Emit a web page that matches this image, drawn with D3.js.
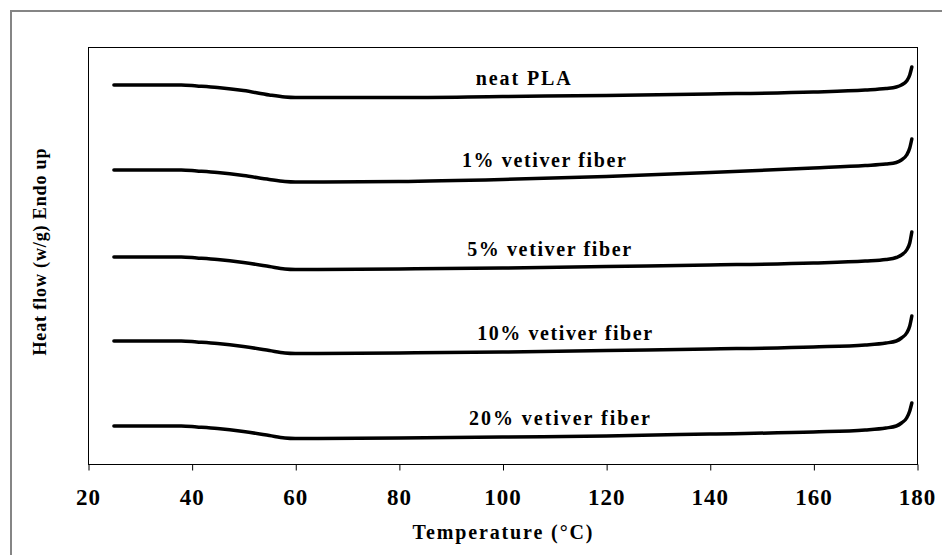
<!DOCTYPE html>
<meta charset="utf-8">
<style>
body { margin: 0; background: #fff; }
svg text { font-family: "Liberation Serif", "Times New Roman", serif; font-weight: bold; fill: #000; }
.axis path, .axis line { stroke: #000; stroke-width: 1px; }
</style>
<body>
<svg width="942" height="555"></svg>
<script src="https://cdn.jsdelivr.net/npm/d3@7/dist/d3.min.js"></script>
<script>

// temperature (°C) sampled along each DSC trace
var temps = [25, 38, 41, 45, 50, 55, 58, 60, 80, 100, 120, 140, 160, 170, 174, 176, 177, 178, 178.6, 179];

// heat flow, arbitrary units (curves offset vertically as in the figure)
var neatPLA = [37.9, 37.9, 37.8, 37.65, 37.35, 36.9, 36.7, 36.65, 36.65, 36.75, 36.85, 37.0, 37.2, 37.4, 37.55, 37.7, 37.9, 38.3, 38.9, 39.7];
var fiber1  = [29.4, 29.4, 29.3, 29.15, 28.85, 28.45, 28.25, 28.2, 28.25, 28.45, 28.75, 29.15, 29.6, 29.85, 30.0, 30.15, 30.4, 30.9, 31.6, 32.5];
var fiber5  = [20.7, 20.7, 20.6, 20.45, 20.15, 19.75, 19.5, 19.45, 19.5, 19.6, 19.75, 19.9, 20.1, 20.3, 20.45, 20.65, 20.9, 21.4, 22.1, 23.2];
var fiber10 = [12.3, 12.3, 12.2, 12.05, 11.75, 11.35, 11.1, 11.05, 11.1, 11.2, 11.35, 11.5, 11.7, 11.9, 12.1, 12.3, 12.6, 13.1, 13.8, 14.8];
var fiber20 = [3.8, 3.8, 3.7, 3.55, 3.25, 2.85, 2.6, 2.55, 2.6, 2.7, 2.8, 3.0, 3.2, 3.4, 3.6, 3.8, 4.1, 4.6, 5.3, 6.1];

var seriesNames = ["neat PLA", "1% vetiver fiber", "5% vetiver fiber", "10% vetiver fiber", "20% vetiver fiber"];
var xTicks = [20, 40, 60, 80, 100, 120, 140, 160, 180];

var allSeries = [neatPLA, fiber1, fiber5, fiber10, fiber20];

var svg = d3.select("svg");

// outer frame (runs off the picture on right/bottom)
svg.append("rect")
    .attr("x", 11).attr("y", 11)
    .attr("width", 1000).attr("height", 1000)
    .attr("fill", "none")
    .attr("stroke", "#858585")
    .attr("stroke-width", 2);

var pLeft = 88, pRight = 917, pTop = 47, pBottom = 464;

var x = d3.scaleLinear().domain([20, 180]).range([pLeft, pRight]);
var y = d3.scaleLinear().domain([0, 41.7]).range([pBottom, pTop]);

// plot frame
svg.append("rect")
    .attr("x", pLeft + 0.5).attr("y", pTop + 0.5)
    .attr("width", pRight - pLeft).attr("height", pBottom - pTop)
    .attr("fill", "none")
    .attr("stroke", "#000")
    .attr("stroke-width", 1);

var xAxis = svg.append("g")
    .attr("class", "axis")
    .attr("transform", "translate(0," + (pBottom + 0.5) + ")")
    .call(d3.axisBottom(x).tickValues(xTicks).tickSize(6).tickSizeOuter(0));
xAxis.select(".domain").remove();
xAxis.selectAll("line").attr("transform", "translate(0.5,0)");
xAxis.selectAll("text")
    .attr("y", 40.5).attr("dy", 0)
    .style("font-size", "23px")
    .style("letter-spacing", "1px");

// lines
var line = d3.line()
    .x(function(d, i) { return x(temps[i]); })
    .y(function(d) { return y(d); })
    .curve(d3.curveMonotoneX);

svg.append("g").selectAll("path")
    .data(allSeries)
    .enter().append("path")
    .attr("d", line)
    .attr("fill", "none")
    .attr("stroke", "#000")
    .attr("stroke-width", 3.5)
    .attr("stroke-linejoin", "round")
    .attr("stroke-linecap", "round");

// curve labels, sitting just above each trace
var labelAt = [104, 108, 109, 112, 111];
var labelW = [95, 164, 164, 175, 181];
svg.append("g").selectAll("text")
    .data(seriesNames)
    .enter().append("text")
    .attr("x", function(d, i) { return x(labelAt[i]); })
    .attr("y", function(d, i) {
      var v = d3.scaleLinear().domain(temps).range(allSeries[i])(labelAt[i]);
      return y(v) - 11;
    })
    .attr("text-anchor", "middle")
    .attr("textLength", function(d, i) { return labelW[i]; })
    .attr("lengthAdjust", "spacing")
    .style("font-size", "20px")
    .text(function(d) { return d; });

// axis titles
svg.append("text")
    .attr("x", (pLeft + pRight) / 2)
    .attr("y", 539)
    .attr("text-anchor", "middle")
    .attr("textLength", 180)
    .attr("lengthAdjust", "spacing")
    .style("font-size", "20px")
    .text("Temperature (°C)");

svg.append("text")
    .attr("transform", "translate(46,252) rotate(-90)")
    .attr("text-anchor", "middle")
    .attr("textLength", 207)
    .attr("lengthAdjust", "spacing")
    .style("font-size", "18px")
    .text("Heat flow (w/g) Endo up");

</script>
